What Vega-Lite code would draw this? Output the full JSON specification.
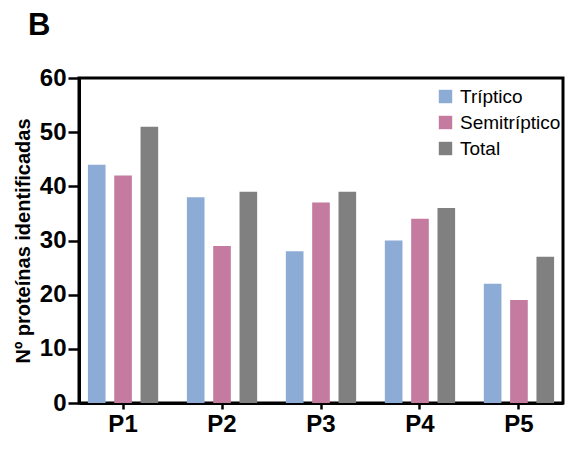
{
  "$schema": "https://vega.github.io/schema/vega-lite/v6.json",
  "width": 484,
  "height": 325,
  "autosize": {"type": "none"},
  "padding": {"left": 79, "top": 78, "right": 10, "bottom": 47},
  "background": "white",
  "title": {"text": "B", "anchor": "start", "frame": "group", "dx": -51, "offset": 24, "fontSize": 31, "fontWeight": "bold", "font": "Liberation Sans", "color": "black"},
  "data": {"values": [
    {"g": "P1", "s": "Tríptico", "v": 44},
    {"g": "P1", "s": "Semitríptico", "v": 42},
    {"g": "P1", "s": "Total", "v": 51},
    {"g": "P2", "s": "Tríptico", "v": 38},
    {"g": "P2", "s": "Semitríptico", "v": 29},
    {"g": "P2", "s": "Total", "v": 39},
    {"g": "P3", "s": "Tríptico", "v": 28},
    {"g": "P3", "s": "Semitríptico", "v": 37},
    {"g": "P3", "s": "Total", "v": 39},
    {"g": "P4", "s": "Tríptico", "v": 30},
    {"g": "P4", "s": "Semitríptico", "v": 34},
    {"g": "P4", "s": "Total", "v": 36},
    {"g": "P5", "s": "Tríptico", "v": 22},
    {"g": "P5", "s": "Semitríptico", "v": 19},
    {"g": "P5", "s": "Total", "v": 27}
  ]},
  "mark": {"type": "bar"},
  "encoding": {
    "x": {"field": "g", "type": "nominal", "scale": {"paddingInner": 0.29, "paddingOuter": 0.09},
      "axis": {"title": null, "labelAngle": 0, "labelFontSize": 24, "labelFontWeight": "bold", "labelFont": "Liberation Sans", "labelColor": "black", "domainColor": "black", "domainWidth": 3, "tickColor": "black", "tickWidth": 2.5, "tickSize": 6, "labelPadding": 3}},
    "xOffset": {"field": "s", "type": "nominal", "sort": ["Tríptico", "Semitríptico", "Total"], "scale": {"paddingInner": 0.33, "paddingOuter": 0}},
    "y": {"field": "v", "type": "quantitative", "scale": {"domain": [0, 60], "nice": false},
      "axis": {"title": "Nº proteínas identificadas", "values": [0, 10, 20, 30, 40, 50, 60], "grid": false, "titleFontSize": 20, "titleFontWeight": "bold", "titleFont": "Liberation Sans", "titleColor": "black", "titlePadding": 6, "labelFontSize": 24, "labelFontWeight": "bold", "labelFont": "Liberation Sans", "labelColor": "black", "domainColor": "black", "domainWidth": 3, "tickColor": "black", "tickWidth": 2.5, "tickSize": 11, "labelPadding": 2}},
    "color": {"field": "s", "type": "nominal", "sort": ["Tríptico", "Semitríptico", "Total"],
      "scale": {"domain": ["Tríptico", "Semitríptico", "Total"], "range": ["#8DACD5", "#C47B9F", "#808080"]},
      "legend": {"title": null, "orient": "none", "legendX": 357, "legendY": 9, "symbolType": "square", "symbolSize": 180, "symbolStrokeWidth": 0, "labelFontSize": 19, "labelFont": "Liberation Sans", "labelColor": "black", "rowPadding": 6, "labelOffset": 5}}
  },
  "config": {"view": {"stroke": "black", "strokeWidth": 3}}
}
